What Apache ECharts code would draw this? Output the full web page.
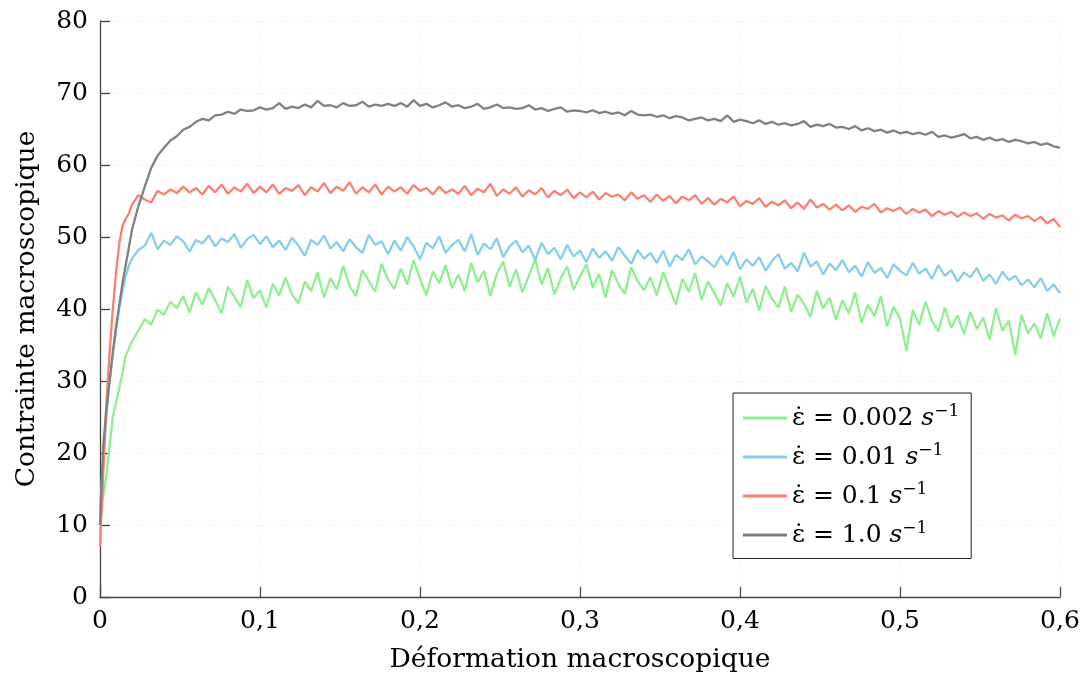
<!DOCTYPE html>
<html>
<head>
<meta charset="utf-8">
<script src="https://cdn.jsdelivr.net/npm/echarts@6/dist/echarts.min.js"></script>
<style>
html,body{margin:0;padding:0;background:#fff;}
#chart{width:1086px;height:679px;}
</style>
</head>
<body>
<div id="chart"></div>
<script>
// Strain (x) sample positions
const strain = [
0,0.002,0.004,0.006,0.008,0.01,0.012,0.014,0.016,0.018,0.02,
0.024,0.028,0.032,0.036,0.04,0.044,0.048,0.052,0.056,0.06,
0.064,0.068,0.072,0.076,0.08,0.084,0.088,0.092,0.096,0.1,
0.104,0.108,0.112,0.116,0.12,0.124,0.128,0.132,0.136,0.14,
0.144,0.148,0.152,0.156,0.16,0.164,0.168,0.172,0.176,0.18,
0.184,0.188,0.192,0.196,0.2,0.204,0.208,0.212,0.216,0.22,
0.224,0.228,0.232,0.236,0.24,0.244,0.248,0.252,0.256,0.26,
0.264,0.268,0.272,0.276,0.28,0.284,0.288,0.292,0.296,0.3,
0.304,0.308,0.312,0.316,0.32,0.324,0.328,0.332,0.336,0.34,
0.344,0.348,0.352,0.356,0.36,0.364,0.368,0.372,0.376,0.38,
0.384,0.388,0.392,0.396,0.4,0.404,0.408,0.412,0.416,0.42,
0.424,0.428,0.432,0.436,0.44,0.444,0.448,0.452,0.456,0.46,
0.464,0.468,0.472,0.476,0.48,0.484,0.488,0.492,0.496,0.5,
0.504,0.508,0.512,0.516,0.52,0.524,0.528,0.532,0.536,0.54,
0.544,0.548,0.552,0.556,0.56,0.564,0.568,0.572,0.576,0.58,
0.584,0.588,0.592,0.596,0.6
];

// strain rate 0.002 s^-1
const stress0002 = [
10,14,17,21,25,27,29,31,33.5,34.5,35.5,
37.0,38.6,37.8,39.9,39.2,41.0,40.1,41.8,39.5,42.3,
40.6,42.9,41.2,39.4,43.1,41.7,40.3,44.0,41.5,42.6,
40.2,43.5,41.9,44.4,42.0,40.8,43.8,42.5,45.1,41.6,
44.3,42.7,46.0,43.2,41.8,45.4,43.9,42.4,46.3,44.1,
42.8,45.6,43.4,46.8,44.2,41.9,45.2,43.6,46.1,42.9,
44.8,42.5,46.4,43.7,45.3,41.8,44.9,46.6,43.1,45.5,
42.3,44.6,46.9,43.4,45.7,42.0,44.3,45.9,42.7,44.5,
46.2,43.0,44.9,41.6,45.4,43.5,42.1,45.8,43.9,42.6,
44.4,41.9,45.1,42.8,40.6,44.2,42.4,45.0,41.3,43.8,
42.2,40.5,43.6,41.7,44.5,40.9,42.8,39.8,43.2,41.4,
40.2,43.1,39.6,42.0,40.7,38.9,42.5,40.1,41.6,38.5,
41.2,39.4,42.3,38.1,40.6,39.0,41.8,37.6,40.3,38.7,
34.2,39.9,37.8,41.0,38.3,36.9,40.2,37.4,39.1,36.5,
39.6,37.2,38.8,35.8,40.1,37.0,38.4,33.6,39.2,36.6,
38.0,35.9,39.4,36.2,38.7
];

// strain rate 0.01 s^-1
const stress001 = [
12,19,25,30,33.5,37,40,42.5,44.5,46,47,
48.2,48.8,50.6,48.3,49.5,48.9,50.1,49.4,48.0,49.6,
49.1,50.2,48.7,49.8,49.3,50.4,48.5,49.7,50.3,49.0,
50.1,48.6,49.5,48.2,49.9,48.8,47.4,49.6,48.9,50.2,
48.4,49.3,48.0,49.7,48.6,47.8,50.3,48.9,49.4,47.6,
49.5,48.1,50.0,48.7,46.9,49.2,48.4,50.1,47.8,48.9,
49.6,48.0,50.4,47.5,49.1,48.3,49.8,47.2,48.7,49.5,
47.9,48.8,46.8,49.2,47.6,48.5,46.9,48.9,47.3,48.1,
46.5,48.4,47.1,48.0,46.7,48.6,47.4,46.3,48.2,47.0,
47.8,46.4,48.1,45.9,47.5,46.8,48.3,46.2,47.3,46.6,
45.8,47.4,46.1,47.9,45.5,46.9,46.0,47.2,45.3,46.7,
47.6,45.6,46.4,45.2,47.8,45.9,46.6,44.8,46.3,45.4,
46.8,45.1,46.0,44.5,46.5,45.0,45.7,44.3,46.2,45.3,
44.7,46.4,44.9,45.6,44.2,46.1,44.6,45.4,43.8,45.1,
44.4,45.7,43.9,44.8,43.5,45.2,44.0,44.6,43.3,44.1,
43.0,44.3,42.5,43.4,42.2
];

// strain rate 0.1 s^-1
const stress01 = [
7,17,27,34,40,45,49,51.5,52.5,53.2,54.5,
55.8,55.2,54.8,56.4,55.9,56.6,56.1,57.0,56.2,56.8,
55.9,57.1,56.2,57.3,56.0,56.9,56.3,57.4,56.1,57.0,
56.2,57.3,56.0,56.8,56.4,57.2,55.8,56.9,56.3,57.5,
56.1,57.0,56.4,57.6,56.0,56.9,56.2,57.3,55.9,57.0,
56.3,56.9,56.0,57.2,56.4,56.8,55.9,57.0,56.1,56.6,
56.0,57.1,55.8,56.7,56.2,57.4,55.7,56.6,56.0,56.9,
55.6,56.5,55.9,56.8,55.5,56.4,55.8,56.6,55.4,56.2,
55.5,56.3,55.2,56.1,55.6,55.9,55.1,56.2,55.3,55.8,
54.9,55.9,55.0,55.7,54.7,55.6,55.1,55.8,54.6,55.4,
54.5,55.3,54.8,55.6,54.3,55.0,54.6,55.4,54.2,54.9,
54.4,55.1,54.0,54.8,53.9,55.2,54.1,54.6,53.8,54.5,
53.7,54.4,53.5,54.2,53.9,54.6,53.4,54.0,53.6,54.1,
53.2,53.9,53.4,53.8,52.9,53.6,53.1,53.5,52.8,53.4,
52.9,53.3,52.5,53.2,52.7,53.0,52.3,53.1,52.6,52.9,
52.2,52.8,51.9,52.5,51.4
];

// strain rate 1.0 s^-1
const stress1 = [
10,21,26,30,34,37.5,40.5,43.5,46,48.5,51,
54.3,57.0,59.6,61.3,62.4,63.4,64.0,64.9,65.3,66.0,
66.4,66.2,66.9,67.0,67.4,67.1,67.7,67.5,67.6,68.0,
67.7,67.9,68.6,67.8,68.1,67.9,68.4,68.0,68.9,68.2,
68.3,68.0,68.6,68.2,68.3,68.8,68.1,68.4,68.2,68.5,
68.2,68.6,68.1,69.0,68.2,68.5,68.0,68.3,68.7,68.1,
68.3,67.9,68.1,68.5,67.8,68.0,68.4,67.9,68.0,67.8,
67.9,68.3,67.7,67.9,67.5,67.8,68.0,67.4,67.6,67.5,
67.3,67.6,67.2,67.4,67.1,67.3,66.9,67.5,67.0,66.9,
67.0,66.7,66.9,66.5,66.8,66.6,66.2,66.4,66.6,66.2,
66.4,66.1,66.9,66.0,66.3,66.1,65.8,66.2,65.7,66.0,
65.6,65.8,65.5,65.7,66.1,65.3,65.6,65.4,65.7,65.2,
65.3,65.0,65.4,64.8,65.1,64.7,64.9,64.5,64.8,64.4,
64.6,64.3,64.5,64.2,64.6,63.9,64.1,63.8,64.0,64.3,
63.7,63.9,63.5,63.8,63.4,63.6,63.2,63.5,63.3,63.0,
63.2,62.8,63.0,62.6,62.4
];

const seriesNames = ['0.002', '0.01', '0.1', '1.0'];
const seriesValues = [stress0002, stress001, stress01, stress1];
const seriesColors = ['#90ee90', '#87ceeb', '#fa8072', '#808080'];

const FONT = 'DejaVu Serif';
const chart = echarts.init(document.getElementById('chart'), null, {renderer: 'canvas'});

const series = seriesValues.map((vals, k) => ({
  name: seriesNames[k],
  type: 'line',
  data: strain.map((x, i) => [x, vals[i]]),
  showSymbol: false,
  symbol: 'none',
  lineStyle: {color: seriesColors[k], width: 2.3},
  itemStyle: {color: seriesColors[k]},
  z: 2 + k
}));

chart.setOption({
  animation: false,
  backgroundColor: '#fff',
  grid: {left: 100, right: 26, top: 21, bottom: 82, containLabel: false},
  xAxis: {
    type: 'value', min: 0, max: 0.6, interval: 0.1,
    name: 'Déformation macroscopique', nameLocation: 'middle', nameGap: 50,
    nameTextStyle: {fontFamily: FONT, fontSize: 26.5, color: '#000'},
    axisLine: {lineStyle: {color: '#444', width: 1.3}},
    axisTick: {inside: true, length: 10, lineStyle: {color: '#444', width: 1.3}},
    axisLabel: {fontFamily: FONT, fontSize: 25, color: '#000', margin: 12,
      formatter: v => v === 0 ? '0' : v.toFixed(1).replace('.', ',')},
    splitLine: {show: true, lineStyle: {color: '#e4e4e4', type: [1, 5], width: 1}}
  },
  yAxis: {
    type: 'value', min: 0, max: 80, interval: 10,
    name: 'Contrainte macroscopique', nameLocation: 'middle', nameGap: 59,
    nameTextStyle: {fontFamily: FONT, fontSize: 26.5, color: '#000'},
    axisLine: {show: true, lineStyle: {color: '#444', width: 1.3}},
    axisTick: {show: true, inside: true, length: 10, lineStyle: {color: '#444', width: 1.3}},
    axisLabel: {fontFamily: FONT, fontSize: 25, color: '#000', margin: 12},
    splitLine: {show: true, lineStyle: {color: '#e4e4e4', type: [1, 5], width: 1}}
  },
  legend: {
    orient: 'vertical', left: 733, top: 393,
    padding: [10, 12, 11, 10],
    itemGap: 11.5,
    itemWidth: 44, itemHeight: 3,
    icon: 'rect',
    borderColor: '#222', borderWidth: 1, backgroundColor: '#fff',
    data: seriesNames,
    formatter: name => '{t|\u03b5\u0307 = ' + name + ' }{s|s}{p|\u22121}',
    textStyle: {
      rich: {
        t: {fontFamily: FONT, fontSize: 25, color: '#000', lineHeight: 30},
        s: {fontFamily: FONT, fontSize: 25, fontStyle: 'italic', color: '#000', lineHeight: 30},
        p: {fontFamily: FONT, fontSize: 17, color: '#000', lineHeight: 18, verticalAlign: 'top'}
      }
    }
  },
  series: series
});
</script>
</body>
</html>
